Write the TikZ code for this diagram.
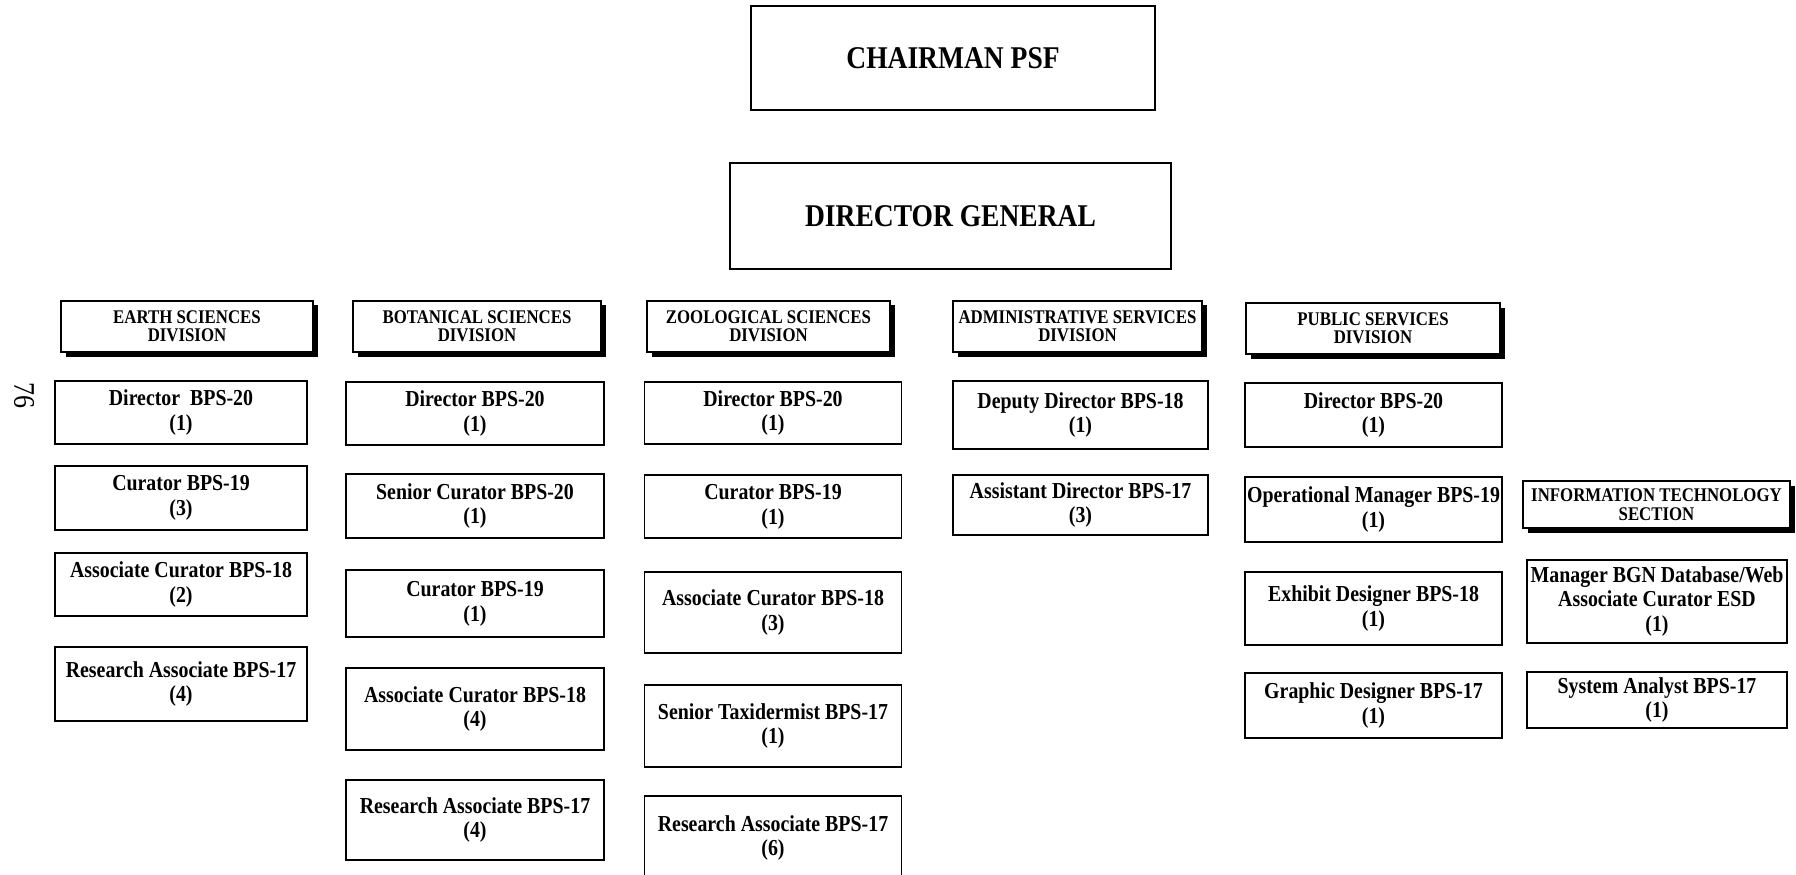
\documentclass[tikz,border=0pt]{standalone}
\usepackage{fontspec}
\setmainfont{Liberation Serif}[FakeStretch=0.87]
\usepackage{tikz}
\usetikzlibrary{calc,shapes,shadows,positioning}

\newcommand{\posttext}{\fontsize{13}{14.2}\selectfont\bfseries}
\newcommand{\headtext}{\fontsize{11}{10.5}\selectfont\bfseries}
\newcommand{\toptext}{\fontsize{18}{20}\selectfont\bfseries}

\begin{document}
\begin{tikzpicture}
          %% ORGANOGRAM

          \tikzstyle{every node}=[align=center,inner sep=0pt]
          \tikzstyle{post}=[draw,line width=.8pt,font=\posttext]
          \tikzstyle{topbox}=[draw,line width=.8pt,font=\toptext]
          \tikzstyle{division}=[draw,line width=.8pt,fill=white,font=\headtext,
            minimum height=1.02cm,
            drop shadow={shadow xshift=.09cm,shadow yshift=-.09cm,fill=black,opacity=1}]

          \useasboundingbox (0,0) rectangle (35.92,-17.5);
          \clip (0,0) rectangle (35.92,-17.5);

          % page number
          \node[rotate=-90,font=\fontsize{17}{17}\selectfont] (page) at (0.48,-7.9) {76};

          % top of the chart
          \node[topbox,minimum width=8.08cm,minimum height=2.08cm] (chair) at (19.06,-1.16) {CHAIRMAN PSF};
          \node[topbox,minimum width=8.82cm,minimum height=2.12cm] (dg) at (19.01,-4.32) {DIRECTOR GENERAL};

          % divisions
          \node[division,minimum width=5.04cm] (hE) at (3.74,-6.53) {EARTH SCIENCES\\DIVISION};
          \node[division,minimum width=4.96cm] (hB) at (9.54,-6.53) {BOTANICAL SCIENCES\\DIVISION};
          \node[division,minimum width=4.86cm] (hZ) at (15.37,-6.53) {ZOOLOGICAL SCIENCES\\DIVISION};
          \node[division,minimum width=4.98cm] (hA) at (21.55,-6.53) {ADMINISTRATIVE SERVICES\\DIVISION};
          \node[division,minimum width=5.08cm] (hP) at (27.46,-6.57) {PUBLIC SERVICES\\DIVISION};
          \node[division,minimum width=5.34cm,minimum height=.94cm] (hI) at (33.13,-10.09) {INFORMATION TECHNOLOGY\\SECTION};

          % earth sciences
          \foreach \y/\h/\text [count=\i] in {-8.25/1.26/{Director\ \ BPS-20\\(1)},
            -9.96/1.28/{Curator BPS-19\\(3)},
            -11.69/1.26/{Associate Curator BPS-18\\(2)},
            -13.68/1.48/{Research Associate BPS-17\\(4)}} {
            \node[post,minimum width=5.04cm,minimum height=\h cm] (E\i) at (3.62,\y) {\text};
          }

          % botanical sciences
          \foreach \y/\h/\text [count=\i] in {-8.27/1.26/{Director BPS-20\\(1)},
            -10.12/1.28/{Senior Curator BPS-20\\(1)},
            -12.07/1.34/{Curator BPS-19\\(1)},
            -14.18/1.64/{Associate Curator BPS-18\\(4)},
            -16.40/1.60/{Research Associate BPS-17\\(4)}} {
            \node[post,minimum width=5.16cm,minimum height=\h cm] (B\i) at (9.50,\y) {\text};
          }

          % zoological sciences
          \foreach \y/\h/\text [count=\i] in {-8.26/1.24/{Director BPS-20\\(1)},
            -10.13/1.26/{Curator BPS-19\\(1)},
            -12.25/1.62/{Associate Curator BPS-18\\(3)},
            -14.52/1.64/{Senior Taxidermist BPS-17\\(1)},
            -16.76/1.68/{Research Associate BPS-17\\(6)}} {
            \node[post,minimum width=5.14cm,minimum height=\h cm] (Z\i) at (15.46,\y) {\text};
          }

          % administrative services
          \foreach \y/\h/\text [count=\i] in {-8.30/1.36/{Deputy Director BPS-18\\(1)},
            -10.10/1.20/{Assistant Director BPS-17\\(3)}} {
            \node[post,minimum width=5.10cm,minimum height=\h cm] (A\i) at (21.61,\y) {\text};
          }

          % public services
          \foreach \y/\h/\text [count=\i] in {-8.30/1.28/{Director BPS-20\\(1)},
            -10.19/1.30/{Operational Manager BPS-19\\(1)},
            -12.17/1.46/{Exhibit Designer BPS-18\\(1)},
            -14.11/1.30/{Graphic Designer BPS-17\\(1)}} {
            \node[post,minimum width=5.14cm,minimum height=\h cm] (P\i) at (27.47,\y) {\text};
          }

          % information technology
          \node[post,minimum width=5.20cm,minimum height=1.66cm] (I1) at (33.14,-12.03)
          {Manager BGN Database/Web\\Associate Curator ESD\\(1)};
          \node[post,minimum width=5.20cm,minimum height=1.12cm] (I2) at (33.14,-14.00)
          {System Analyst BPS-17\\(1)};
        \end{tikzpicture}
\end{document}
